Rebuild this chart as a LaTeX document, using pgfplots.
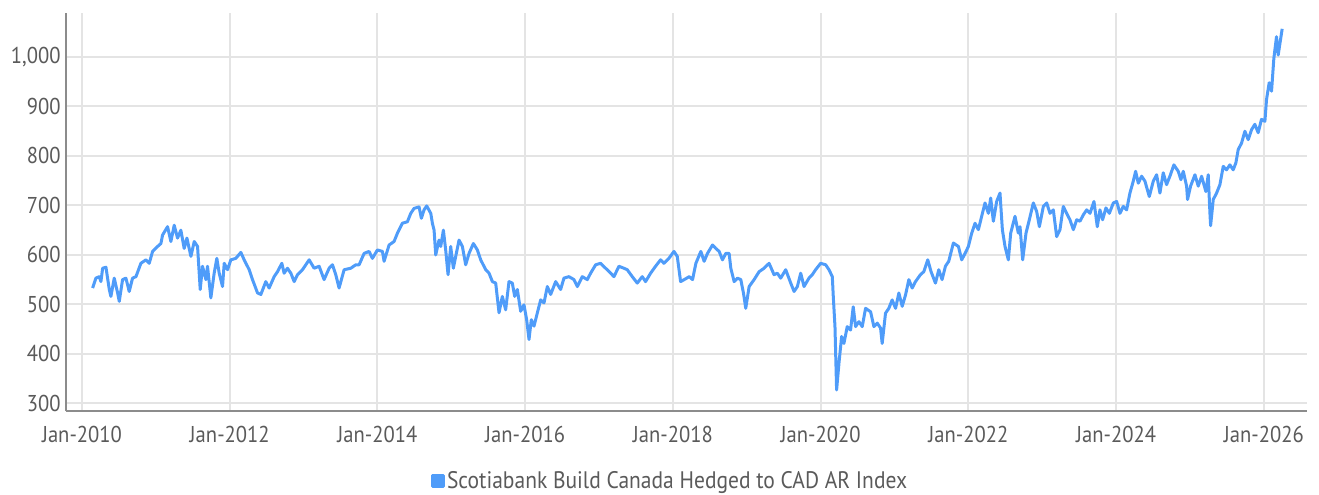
\documentclass[border=0pt]{standalone}
\usepackage{fontspec}
\setmainfont{PT Sans}[FakeStretch=0.9]
\usepackage{pgfplots}
\pgfplotsset{compat=1.18}
\usepackage{pgfplotstable}
\definecolor{lineblue}{HTML}{4F9CF9}
\definecolor{gridgray}{HTML}{E4E4E4}
\definecolor{axgray}{HTML}{8C8C8C}
\definecolor{txtgray}{HTML}{5A5A5A}

\pgfplotstableread{
year val
2010.144 533
2010.189 553
2010.234 556
2010.257 546
2010.280 573
2010.325 575
2010.370 530
2010.392 516
2010.437 553
2010.483 523
2010.505 506
2010.550 550
2010.595 553
2010.640 526
2010.685 553
2010.731 556
2010.798 583
2010.866 590
2010.911 583
2010.956 607
2011.024 617
2011.069 623
2011.091 640
2011.159 657
2011.204 627
2011.249 660
2011.294 634
2011.339 650
2011.384 613
2011.421 634
2011.475 597
2011.520 627
2011.565 617
2011.601 530
2011.632 577
2011.678 550
2011.700 577
2011.745 513
2011.790 563
2011.826 593
2011.858 563
2011.903 536
2011.926 583
2011.971 570
2012.016 590
2012.083 593
2012.151 605
2012.196 590
2012.264 570
2012.309 550
2012.377 523
2012.422 520
2012.489 546
2012.534 533
2012.602 556
2012.647 566
2012.706 583
2012.737 563
2012.782 573
2012.828 563
2012.873 546
2012.918 560
2012.985 570
2013.076 590
2013.143 573
2013.211 577
2013.278 550
2013.346 573
2013.391 580
2013.436 560
2013.481 533
2013.549 570
2013.639 573
2013.707 580
2013.752 580
2013.820 603
2013.887 607
2013.932 593
2014.000 610
2014.068 607
2014.090 587
2014.158 620
2014.225 627
2014.271 644
2014.338 664
2014.406 667
2014.451 684
2014.496 694
2014.564 697
2014.595 674
2014.631 691
2014.667 699
2014.722 684
2014.744 664
2014.767 650
2014.789 600
2014.834 630
2014.857 617
2014.893 650
2014.924 610
2014.956 560
2014.992 617
2015.028 573
2015.060 597
2015.105 630
2015.150 617
2015.195 580
2015.240 603
2015.299 623
2015.353 610
2015.398 590
2015.466 570
2015.511 563
2015.556 546
2015.601 543
2015.646 483
2015.691 516
2015.736 489
2015.781 546
2015.826 543
2015.858 516
2015.894 530
2015.939 486
2015.984 499
2016.020 469
2016.052 429
2016.083 469
2016.120 456
2016.165 483
2016.210 509
2016.255 503
2016.300 536
2016.345 520
2016.413 546
2016.480 530
2016.525 553
2016.593 556
2016.661 550
2016.706 536
2016.773 556
2016.841 550
2016.886 563
2016.954 580
2017.021 583
2017.089 573
2017.157 563
2017.202 556
2017.269 577
2017.337 573
2017.382 570
2017.450 556
2017.517 543
2017.585 556
2017.630 546
2017.698 563
2017.765 577
2017.833 590
2017.878 583
2017.946 593
2018.014 607
2018.059 597
2018.104 546
2018.153 550
2018.221 556
2018.266 550
2018.311 583
2018.378 607
2018.423 587
2018.468 603
2018.536 620
2018.581 613
2018.626 607
2018.671 590
2018.716 603
2018.761 603
2018.784 573
2018.829 546
2018.874 553
2018.919 550
2018.955 523
2018.986 492
2019.032 536
2019.099 550
2019.167 566
2019.234 573
2019.302 583
2019.369 560
2019.414 563
2019.459 553
2019.527 570
2019.595 543
2019.640 526
2019.685 536
2019.730 563
2019.775 536
2019.842 553
2019.887 560
2019.932 570
2020.000 583
2020.068 580
2020.113 570
2020.158 556
2020.171 516
2020.194 455
2020.216 327
2020.248 381
2020.284 435
2020.315 421
2020.360 455
2020.405 448
2020.441 495
2020.473 455
2020.518 465
2020.563 455
2020.608 492
2020.676 485
2020.721 455
2020.766 462
2020.811 452
2020.833 421
2020.878 482
2020.923 492
2020.968 509
2021.014 492
2021.059 523
2021.104 496
2021.149 519
2021.194 550
2021.239 533
2021.284 546
2021.351 560
2021.396 566
2021.450 590
2021.495 566
2021.554 543
2021.599 570
2021.644 550
2021.689 577
2021.734 587
2021.797 624
2021.865 617
2021.910 590
2021.955 603
2022.000 617
2022.045 644
2022.090 664
2022.135 651
2022.180 678
2022.225 705
2022.271 684
2022.302 715
2022.338 668
2022.383 708
2022.428 725
2022.460 651
2022.496 617
2022.541 590
2022.573 644
2022.631 678
2022.676 644
2022.699 657
2022.735 590
2022.780 644
2022.825 671
2022.879 705
2022.924 688
2022.961 657
2023.015 698
2023.060 705
2023.105 684
2023.150 691
2023.195 637
2023.240 651
2023.285 698
2023.330 684
2023.375 671
2023.421 651
2023.466 671
2023.511 668
2023.556 681
2023.601 691
2023.646 684
2023.700 708
2023.745 657
2023.781 691
2023.817 671
2023.862 695
2023.908 684
2023.962 705
2024.007 708
2024.052 684
2024.097 698
2024.142 691
2024.187 725
2024.232 749
2024.264 769
2024.300 745
2024.345 759
2024.390 749
2024.449 718
2024.503 749
2024.548 762
2024.593 725
2024.638 766
2024.683 742
2024.728 759
2024.782 782
2024.841 769
2024.877 752
2024.909 769
2024.954 739
2024.967 712
2025.008 739
2025.067 762
2025.112 739
2025.157 759
2025.215 728
2025.247 762
2025.270 684
2025.279 659
2025.315 712
2025.360 725
2025.405 742
2025.450 779
2025.495 772
2025.540 782
2025.585 772
2025.621 786
2025.653 813
2025.698 826
2025.743 850
2025.788 833
2025.833 853
2025.878 864
2025.923 847
2025.968 874
2026.014 870
2026.036 914
2026.072 948
2026.104 931
2026.135 997
2026.171 1041
2026.194 1004
2026.217 1027
2026.248 1057
}\idx

\begin{document}
\begin{tikzpicture}
\begin{axis}[
  scale only axis,
  width=1241bp, height=398bp,
  xmin=2009.78, xmax=2026.58,
  ymin=284.4, ymax=1089,
  axis x line*=bottom, axis y line*=left,
  axis line style={axgray, line width=2bp},
  xtick={2010,2012,...,2026},
  xticklabels={Jan-2010,Jan-2012,Jan-2014,Jan-2016,Jan-2018,Jan-2020,Jan-2022,Jan-2024,Jan-2026},
  ytick={300,400,...,1000},
  grid=major,
  major grid style={gridgray, line width=2bp},
  major tick length=0pt,
  tick style={draw=none},
  tick label style={font=\fontsize{23}{27}\selectfont, text=txtgray},
  /pgf/number format/assume math mode=true,
  /pgf/number format/1000 sep={,},
  yticklabel style={inner sep=0pt, xshift=-5bp},
  xticklabel style={inner sep=0pt, yshift=-15bp},
  legend style={draw=none, fill=none, font=\fontsize{24}{28}\selectfont, text=txtgray,
    at={(axis description cs:0.487,-0.176)}, anchor=center, inner sep=0pt},
  legend image code/.code={\fill[lineblue] (0bp,-5.5bp) rectangle (11bp,5.5bp);},
  legend cell align=left,
]
\addplot[lineblue, line width=3bp, line join=round] table[x=year, y=val] {\idx};
\addlegendentry{Scotiabank Build Canada Hedged to CAD AR Index}
\coordinate (O) at (rel axis cs:0,0);
\end{axis}
\pgfresetboundingbox
\path[use as bounding box] (O) ++(-65.7bp,-84bp) rectangle ++(1319bp,495bp);
\end{tikzpicture}
\end{document}
